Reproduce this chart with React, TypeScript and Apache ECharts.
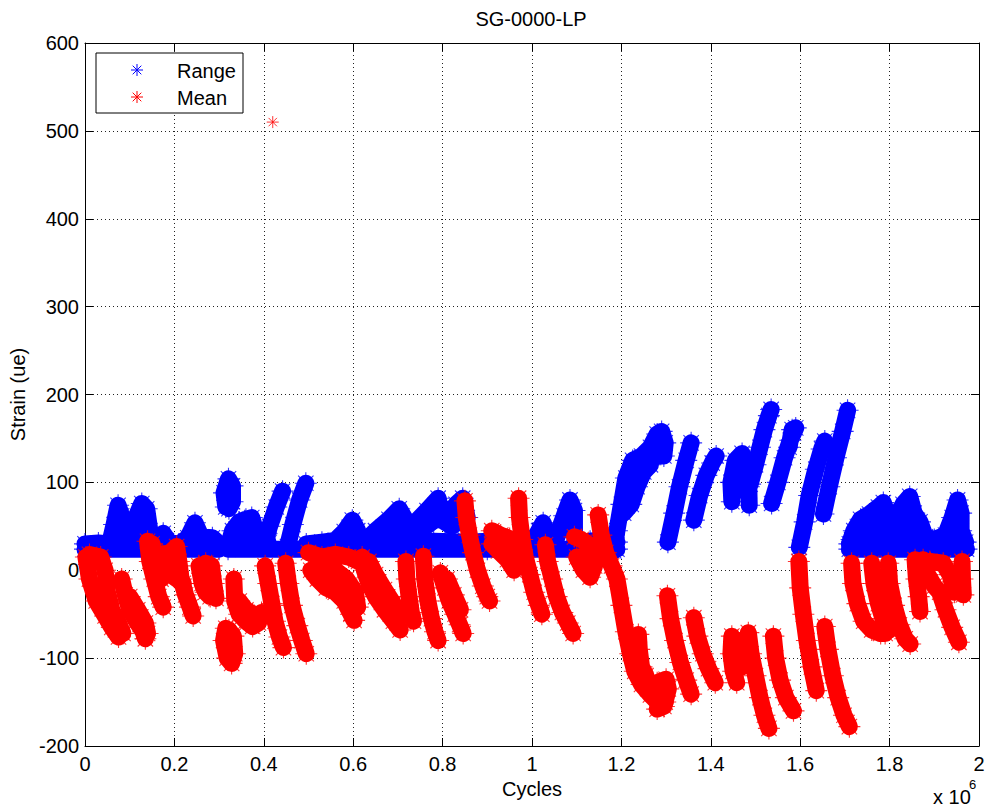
import React, { useEffect, useRef } from 'react';
import * as echarts from 'echarts';

const FONT = "'Liberation Sans', Arial, Helvetica, sans-serif";
const BLUE = '#0000ff';
const RED = '#ff0000';

// Axis ranges (x in millions of cycles)
const xMin = 0;
const xMax = 2;
const xStep = 0.2;
const yMin = -200;
const yMax = 600;
const yStep = 100;

// Range (blue) streaks: traced centre lines [cycles (x1e6), strain]
const rangeStreaks: [number, number][][] = [
  [[0.0, 24], [0.15, 24], [0.3, 24]],
  [[0.32, 24], [0.6, 24], [0.9, 24], [1.19, 24]],
  [[1.71, 24], [1.85, 24], [1.972, 24]],
  [[0.0, 30], [0.03, 31], [0.055, 30]],
  [[0.055, 30], [0.065, 52], [0.074, 74], [0.082, 62], [0.09, 38], [0.1, 30]],
  [[0.062, 35], [0.075, 50], [0.085, 45]],
  [[0.098, 30], [0.112, 58], [0.127, 76], [0.138, 70], [0.145, 45], [0.15, 30]],
  [[0.11, 38], [0.125, 55], [0.135, 50]],
  [[0.145, 30], [0.165, 36], [0.175, 42], [0.19, 31], [0.21, 30], [0.23, 37], [0.246, 54], [0.26, 38], [0.285, 37], [0.3, 30]],
  [[0.315, 72], [0.311, 88], [0.321, 104], [0.33, 96], [0.33, 78], [0.322, 70]],
  [[0.322, 30], [0.33, 45], [0.345, 55], [0.36, 58], [0.373, 60], [0.382, 45], [0.386, 30], [0.36, 30], [0.34, 35], [0.355, 45], [0.37, 45]],
  [[0.399, 27], [0.413, 50], [0.428, 72], [0.442, 90]],
  [[0.392, 32], [0.405, 40], [0.41, 30]],
  [[0.453, 27], [0.465, 52], [0.48, 80], [0.494, 99]],
  [[0.495, 30], [0.53, 32], [0.56, 34], [0.58, 44], [0.598, 57], [0.61, 45], [0.615, 30]],
  [[0.62, 30], [0.65, 45], [0.68, 58], [0.703, 70], [0.72, 55], [0.74, 55], [0.765, 68], [0.79, 82], [0.8, 60], [0.815, 65], [0.83, 75], [0.845, 82], [0.855, 60]],
  [[0.63, 32], [0.67, 42], [0.7, 50], [0.75, 45], [0.79, 60], [0.82, 50], [0.85, 60]],
  [[0.6, 32], [0.7, 33], [0.78, 33], [0.86, 32]],
  [[0.86, 32], [0.9, 33], [0.94, 35], [0.98, 33], [1.0, 31]],
  [[1.0, 31], [1.015, 45], [1.025, 54], [1.035, 40], [1.045, 31]],
  [[1.05, 28], [1.06, 45], [1.072, 62], [1.085, 80], [1.095, 68], [1.095, 40]],
  [[1.095, 32], [1.13, 33], [1.16, 35], [1.19, 32]],
  [[1.183, 22], [1.19, 45], [1.2, 75], [1.21, 105], [1.225, 125], [1.245, 130], [1.265, 140], [1.28, 155], [1.29, 158], [1.298, 145], [1.295, 130], [1.28, 130]],
  [[1.205, 65], [1.222, 75], [1.235, 95], [1.25, 112], [1.265, 120]],
  [[1.304, 32], [1.318, 65], [1.33, 95], [1.345, 125], [1.356, 145]],
  [[1.362, 57], [1.375, 85], [1.39, 108], [1.403, 122], [1.412, 130]],
  [[1.447, 78], [1.445, 100], [1.455, 125], [1.47, 133], [1.478, 120], [1.485, 95], [1.486, 74]],
  [[1.458, 90], [1.468, 108]],
  [[1.488, 98], [1.5, 120], [1.51, 140], [1.52, 160], [1.53, 176], [1.535, 183]],
  [[1.536, 76], [1.55, 100], [1.565, 128], [1.578, 148], [1.59, 162], [1.582, 160], [1.575, 140]],
  [[1.598, 26], [1.61, 55], [1.62, 85], [1.635, 115], [1.648, 138], [1.655, 147]],
  [[1.652, 64], [1.665, 95], [1.68, 128], [1.695, 158], [1.706, 182]],
  [[1.71, 30], [1.72, 45], [1.735, 58], [1.755, 64], [1.775, 72], [1.786, 77], [1.8, 55], [1.815, 60], [1.83, 75], [1.845, 84], [1.855, 65], [1.868, 55], [1.88, 38], [1.9, 35], [1.925, 40], [1.94, 60], [1.952, 80], [1.96, 65], [1.96, 45], [1.97, 32]],
  [[1.715, 35], [1.74, 50], [1.77, 60], [1.79, 62], [1.81, 50], [1.83, 60], [1.85, 60], [1.865, 45]],
  [[1.725, 40], [1.76, 45], [1.8, 40], [1.84, 42], [1.88, 32], [1.93, 32], [1.945, 50], [1.955, 65]],
  [[1.76, 36], [1.79, 48], [1.82, 44], [1.86, 38]],
];

// Mean (red) streaks: traced centre lines [cycles (x1e6), strain]
const meanStreaks: [number, number][][] = [
  [[0.002, 15], [0.01, -10], [0.025, -35], [0.045, -52], [0.06, -65], [0.075, -76]],
  [[0.01, 18], [0.035, 15], [0.045, 0], [0.05, -25], [0.06, -45], [0.075, -60], [0.085, -72]],
  [[0.082, -10], [0.09, -28], [0.1, -45], [0.115, -58], [0.13, -70], [0.135, -78]],
  [[0.1, -30], [0.118, -45], [0.135, -60], [0.14, -72]],
  [[0.14, 33], [0.145, 10], [0.155, -10], [0.165, -30], [0.175, -42]],
  [[0.15, 30], [0.16, 10], [0.17, -10]],
  [[0.172, 18], [0.19, 20], [0.205, 27], [0.21, 10], [0.215, -10], [0.225, -28], [0.235, -42], [0.242, -52]],
  [[0.175, 5], [0.19, 0], [0.2, -8], [0.22, -15]],
  [[0.255, 5], [0.262, -15], [0.27, -25], [0.28, -30]],
  [[0.27, 8], [0.283, 5], [0.288, -15], [0.293, -32]],
  [[0.315, -66], [0.31, -80], [0.318, -100], [0.328, -106], [0.335, -95], [0.332, -75], [0.322, -68]],
  [[0.333, -10], [0.335, -35], [0.345, -50], [0.36, -58], [0.375, -64], [0.388, -60], [0.395, -48]],
  [[0.345, -35], [0.36, -45], [0.375, -50]],
  [[0.403, 5], [0.41, -15], [0.418, -38], [0.425, -58], [0.435, -76], [0.444, -88]],
  [[0.449, 8], [0.455, -15], [0.463, -40], [0.475, -63], [0.485, -80], [0.495, -95]],
  [[0.5, 20], [0.53, 15], [0.56, 18], [0.59, 15], [0.612, 10]],
  [[0.505, 0], [0.52, -10], [0.54, -20], [0.56, -25], [0.58, -35], [0.595, -50], [0.602, -57]],
  [[0.53, 2], [0.56, 0], [0.585, -10], [0.605, -25], [0.61, -42]],
  [[0.52, 5], [0.55, -8], [0.57, -15], [0.59, -25]],
  [[0.62, 15], [0.625, 0], [0.635, -15], [0.65, -30], [0.67, -45], [0.69, -58], [0.705, -68]],
  [[0.635, 10], [0.65, -5], [0.67, -22], [0.69, -38], [0.71, -52]],
  [[0.718, 10], [0.72, -10], [0.725, -30], [0.73, -48], [0.735, -58]],
  [[0.757, 16], [0.76, -10], [0.767, -35], [0.775, -55], [0.783, -70], [0.79, -80]],
  [[0.795, -3], [0.805, -20], [0.815, -35], [0.828, -50], [0.838, -62], [0.846, -72]],
  [[0.81, -10], [0.825, -28], [0.84, -45]],
  [[0.85, 79], [0.853, 60], [0.86, 40], [0.868, 20], [0.878, 0], [0.89, -18], [0.9, -30], [0.905, -35]],
  [[0.91, 45], [0.93, 40], [0.95, 36], [0.96, 28], [0.965, 10], [0.96, 0], [0.945, 12], [0.925, 22], [0.91, 30]],
  [[0.97, 82], [0.972, 60], [0.978, 35], [0.985, 15], [0.995, -5], [1.005, -25], [1.015, -40], [1.022, -50]],
  [[1.03, 29], [1.035, 10], [1.045, -10], [1.055, -30], [1.068, -48], [1.08, -60], [1.092, -72]],
  [[1.095, 38], [1.11, 35], [1.125, 30], [1.14, 25], [1.14, 5], [1.13, -8], [1.115, 0], [1.1, 15], [1.12, 15]],
  [[1.148, 63], [1.155, 40], [1.165, 20], [1.178, 5], [1.19, -10], [1.2, -40], [1.21, -70], [1.22, -95], [1.23, -115], [1.245, -130], [1.265, -142], [1.285, -152], [1.298, -150]],
  [[1.26, -135], [1.28, -128], [1.3, -124], [1.305, -135], [1.295, -155], [1.28, -158]],
  [[1.238, -73], [1.24, -90], [1.245, -110], [1.255, -120]],
  [[1.303, -29], [1.31, -55], [1.32, -80], [1.332, -105], [1.345, -125], [1.356, -141]],
  [[1.362, -54], [1.37, -75], [1.382, -95], [1.395, -112], [1.41, -128]],
  [[1.447, -75], [1.445, -95], [1.45, -115], [1.458, -128]],
  [[1.46, -80], [1.465, -100], [1.47, -110]],
  [[1.484, -71], [1.49, -95], [1.5, -120], [1.51, -145], [1.52, -165], [1.53, -180]],
  [[1.54, -75], [1.545, -100], [1.555, -125], [1.568, -145], [1.585, -160]],
  [[1.597, 10], [1.6, -20], [1.607, -50], [1.615, -80], [1.625, -110], [1.636, -137]],
  [[1.655, -64], [1.662, -90], [1.673, -120], [1.685, -145], [1.698, -165], [1.71, -178]],
  [[1.715, 8], [1.718, -15], [1.728, -38], [1.742, -58], [1.76, -68], [1.78, -72], [1.79, -72]],
  [[1.76, 8], [1.765, -15], [1.775, -38], [1.785, -55], [1.8, -68]],
  [[1.797, 8], [1.8, -15], [1.81, -40], [1.822, -62], [1.835, -78], [1.846, -84]],
  [[1.857, 12], [1.86, -10], [1.865, -30], [1.868, -47]],
  [[1.875, 12], [1.885, -5], [1.9, -18], [1.912, -25], [1.925, -45], [1.94, -65], [1.955, -82]],
  [[1.89, 10], [1.92, 8], [1.935, -5], [1.945, -25]],
  [[1.962, 10], [1.963, -10], [1.965, -28]],
];

const meanOutlier: [number, number][] = [[0.42, 510]];

const ASTERISK = 'path://M5,0L5,10M0,5L10,5M1.5,1.5L8.5,8.5M1.5,8.5L8.5,1.5';

function asteriskGraphic(cx: number, cy: number, r: number, color: string) {
  const d = r * 0.72;
  const st = { stroke: color, lineWidth: 1 };
  return {
    type: 'group',
    z: 101,
    children: [
      { type: 'line', z: 101, shape: { x1: cx, y1: cy - r, x2: cx, y2: cy + r }, style: st },
      { type: 'line', z: 101, shape: { x1: cx - r, y1: cy, x2: cx + r, y2: cy }, style: st },
      { type: 'line', z: 101, shape: { x1: cx - d, y1: cy - d, x2: cx + d, y2: cy + d }, style: st },
      { type: 'line', z: 101, shape: { x1: cx - d, y1: cy + d, x2: cx + d, y2: cy - d }, style: st },
    ],
  };
}

function streakSeries(streaks: [number, number][][], color: string, prefix: string, z: number) {
  return streaks.map((s, i) => ({
    name: `${prefix}-${i}`,
    type: 'line',
    data: s,
    symbol: 'none',
    showSymbol: false,
    silent: true,
    z,
    lineStyle: { color, width: 17, cap: 'round', join: 'round' },
    emphasis: { disabled: true },
  }));
}

function scatterSeries(name: string, streaks: [number, number][][], color: string, size: number, z: number) {
  const pts: [number, number][] = [];
  streaks.forEach((s) => s.forEach((p) => pts.push(p)));
  return {
    name,
    type: 'scatter',
    data: pts,
    symbol: ASTERISK,
    symbolSize: size,
    silent: true,
    z,
    itemStyle: { color, borderColor: color, borderWidth: 1.1 },
    emphasis: { disabled: true },
  };
}

const axisLabelStyle = { fontSize: 20, color: '#000', fontFamily: FONT };
const dotted = { type: [1, 3], color: '#222', width: 1 };

export default function App() {
  const ref = useRef<HTMLDivElement>(null);
  useEffect(() => {
    const chart = echarts.init(ref.current!, undefined, { renderer: 'svg' });
    const option: any = {
      animation: false,
      backgroundColor: '#fff',
      title: {
        text: 'SG-0000-LP',
        left: 531,
        top: 9,
        padding: 0,
        textAlign: 'center',
        textStyle: { fontSize: 20, fontWeight: 'normal', color: '#000', fontFamily: FONT },
      },
      grid: { left: 85, right: 10, top: 43, bottom: 65, containLabel: false, outerBoundsMode: 'none' },
      xAxis: [
        {
          type: 'value',
          min: xMin,
          max: xMax,
          interval: xStep,
          name: 'Cycles',
          nameLocation: 'middle',
          nameGap: 33,
          nameTextStyle: axisLabelStyle,
          axisLine: { onZero: false, lineStyle: { color: '#000', width: 1 } },
          axisTick: { inside: true, length: 8, lineStyle: { color: '#000' } },
          axisLabel: {
            ...axisLabelStyle,
            margin: 8,
            formatter: (v: number) => String(Math.round(v * 10) / 10),
          },
          splitLine: { show: true, lineStyle: dotted },
        },
        {
          type: 'value',
          position: 'top',
          min: xMin,
          max: xMax,
          interval: xStep,
          axisLine: { onZero: false, lineStyle: { color: '#000', width: 1 } },
          axisTick: { inside: true, length: 8, lineStyle: { color: '#000' } },
          axisLabel: { show: false },
          splitLine: { show: false },
        },
      ],
      yAxis: [
        {
          type: 'value',
          min: yMin,
          max: yMax,
          interval: yStep,
          name: 'Strain (ue)',
          nameLocation: 'middle',
          nameGap: 51,
          nameTextStyle: axisLabelStyle,
          axisLine: { onZero: false, lineStyle: { color: '#000', width: 1 } },
          axisTick: { inside: true, length: 8, lineStyle: { color: '#000' } },
          axisLabel: { ...axisLabelStyle, margin: 6 },
          splitLine: { show: true, lineStyle: dotted },
        },
        {
          type: 'value',
          position: 'right',
          min: yMin,
          max: yMax,
          interval: yStep,
          axisLine: { onZero: false, lineStyle: { color: '#000', width: 1 } },
          axisTick: { inside: true, length: 8, lineStyle: { color: '#000' } },
          axisLabel: { show: false },
          splitLine: { show: false },
        },
      ],
      series: [
        ...streakSeries(rangeStreaks, BLUE, 'range', 2),
        scatterSeries('Range', rangeStreaks, BLUE, 22, 3),
        ...streakSeries(meanStreaks, RED, 'mean', 4),
        scatterSeries('Mean', meanStreaks, RED, 22, 5),
        {
          name: 'Mean outlier',
          type: 'scatter',
          data: meanOutlier,
          symbol: ASTERISK,
          symbolSize: 12,
          silent: true,
          z: 5,
          itemStyle: { color: RED, borderColor: RED, borderWidth: 1 },
        },
      ],
      graphic: [
        {
          type: 'rect',
          z: 100,
          shape: { x: 96, y: 53, width: 147, height: 60 },
          style: { fill: '#fff', stroke: '#000', lineWidth: 1 },
        },
        asteriskGraphic(137, 70, 6, BLUE),
        asteriskGraphic(137, 97, 6, RED),
        {
          type: 'text',
          z: 101,
          x: 177,
          y: 71,
          style: { text: 'Range', fontSize: 20, fill: '#000', fontFamily: FONT, verticalAlign: 'middle' },
        },
        {
          type: 'text',
          z: 101,
          x: 177,
          y: 98,
          style: { text: 'Mean', fontSize: 20, fill: '#000', fontFamily: FONT, verticalAlign: 'middle' },
        },
        {
          type: 'text',
          z: 101,
          x: 933,
          y: 797,
          style: { text: 'x 10', fontSize: 20, fill: '#000', fontFamily: FONT, verticalAlign: 'middle' },
        },
        {
          type: 'text',
          z: 101,
          x: 969,
          y: 784,
          style: { text: '6', fontSize: 13, fill: '#000', fontFamily: FONT, verticalAlign: 'middle' },
        },
      ],
    };
    chart.setOption(option);
    return () => chart.dispose();
  }, []);
  return (
    <div
      ref={ref}
      style={{ position: 'fixed', left: 0, top: 0, width: 989, height: 811, background: '#fff' }}
    />
  );
}
